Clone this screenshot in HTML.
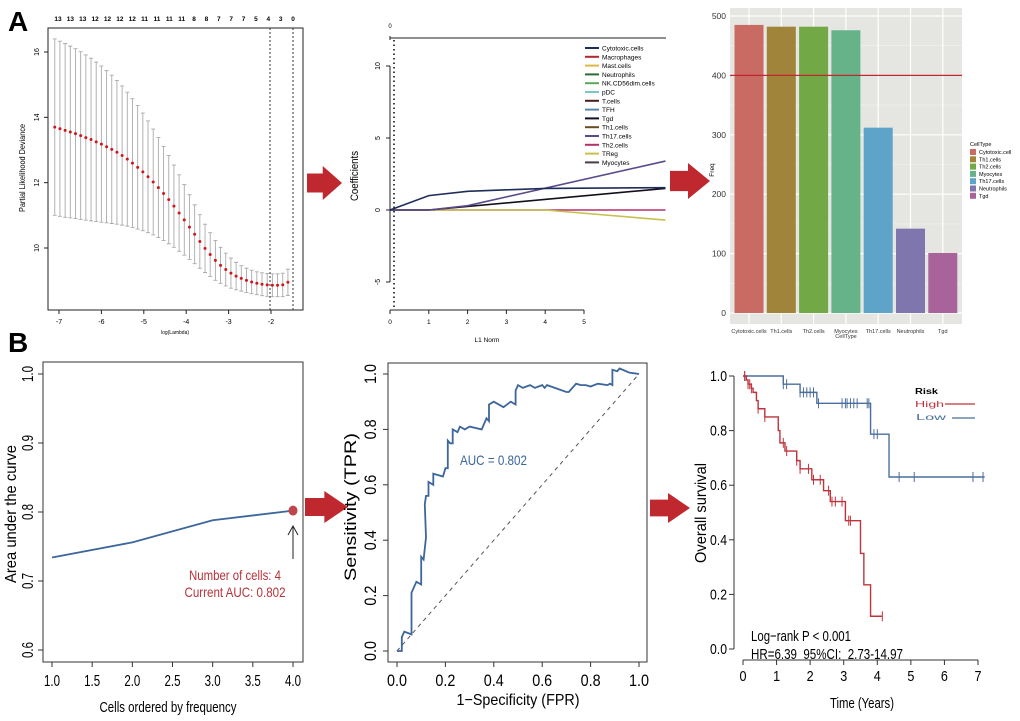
<!DOCTYPE html>
<html><head><meta charset="utf-8">
<style>
html,body{margin:0;padding:0;background:#fff;}
svg{display:block;font-family:"Liberation Sans",sans-serif;}
</style></head>
<body>
<svg id="fig" width="1020" height="721" viewBox="0 0 1020 721" xmlns="http://www.w3.org/2000/svg">
<text x="8" y="31" font-family="Liberation Sans" font-weight="bold" font-size="28">A</text>
<text x="8" y="352" font-family="Liberation Sans" font-weight="bold" font-size="28">B</text>
<g id="arrows" fill="#c0282f"></g>
<g id="p1"></g>
<g id="p2"></g>
<g id="p3"></g>
<g id="p4"></g>
<g id="p5"></g>
<g id="p6"></g>
</svg>
<script>
// ---- Panel A1 data
const lamStart = -7.1, lamStep = 0.1222;
const cvMean = [13.70,13.65,13.60,13.55,13.50,13.44,13.38,13.32,13.25,13.18,13.10,13.02,12.93,12.83,12.72,12.60,12.47,12.33,12.18,12.02,11.85,11.67,11.48,11.28,11.07,10.86,10.64,10.42,10.20,9.99,9.80,9.62,9.47,9.34,9.23,9.14,9.07,9.01,8.96,8.92,8.89,8.87,8.86,8.86,8.87,8.95];
const cvSe = [2.70,2.68,2.66,2.63,2.60,2.57,2.53,2.49,2.44,2.39,2.33,2.27,2.20,2.13,2.05,1.97,1.89,1.80,1.71,1.62,1.53,1.44,1.35,1.26,1.17,1.08,0.99,0.90,0.82,0.74,0.67,0.61,0.55,0.50,0.46,0.42,0.39,0.37,0.36,0.35,0.35,0.35,0.35,0.35,0.36,0.40];
const topCounts = ["13","13","13","12","12","12","12","11","11","11","11","8","8","7","7","7","5","4","3","0"];
const lamXTicks = [-7,-6,-5,-4,-3,-2];
const lamYTicks = [10,12,14,16];
// ---- Panel A2 data
const coefNames = ["Cytotoxic.cells","Macrophages","Mast.cells","Neutrophils","NK.CD56dim.cells","pDC","T.cells","TFH","Tgd","Th1.cells","Th17.cells","Th2.cells","TReg","Myocytes"];
const coefColors = ["#1f2d5a","#b3262e","#e0b84a","#2e6b3a","#5aa85a","#7cc6c8","#4a1f1f","#5a86a8","#150f1c","#6b4a24","#5b4a8a","#b8306a","#c8c050","#4a3b4a"];
const cytoL1 = [0,1,2,3,4,7.1], cytoVal = [0,1.0,1.3,1.4,1.5,1.55];
const th17L1 = [0,1,2,7.1], th17Val = [0,0,0.3,3.4];
const tgdL1 = [0,1,7.1], tgdVal = [0,0,1.5];
const tregL1 = [0,4,7.1], tregVal = [0,0,-0.7];
const th2L1 = [0,7.1], th2Val = [0,0];
// ---- Panel A3 data
const cellTypes = ["Cytotoxic.cells","Th1.cells","Th2.cells","Myocytes","Th17.cells","Neutrophils","Tgd"];
const legendTypes = ["Cytotoxic.cell","Th1.cells","Th2.cells","Myocytes","Th17.cells","Neutrophils","Tgd"];
const freqs = [485,482,482,476,312,142,101];
const barColors = ["#c96a63","#a0843a","#72a845","#66b38a","#5ea3c8","#7e76ac","#a8639a"];
const freqTicks = [0,100,200,300,400,500];
const threshold = 400;
// ---- Panel B1 data
const nCells = [1,2,3,4];
const aucVals = [0.734,0.756,0.788,0.802];
const b1XTicks = ["1.0","1.5","2.0","2.5","3.0","3.5","4.0"];
const b1YTicks = ["0.6","0.7","0.8","0.9","1.0"];
// ---- Panel B2 data
const rocFpr = [0,0.01,0.02,0.02,0.03,0.06,0.06,0.07,0.08,0.1,0.1,0.11,0.12,0.115,0.12,0.13,0.13,0.15,0.15,0.19,0.2,0.21,0.21,0.22,0.23,0.23,0.25,0.26,0.28,0.3,0.35,0.37,0.38,0.38,0.4,0.44,0.47,0.49,0.49,0.5,0.52,0.55,0.57,0.6,0.61,0.62,0.7,0.71,0.74,0.76,0.78,0.8,0.83,0.87,0.88,0.89,0.89,0.91,0.92,0.96,1];
const rocTpr = [0,0,0,0.05,0.07,0.06,0.21,0.23,0.25,0.24,0.34,0.33,0.41,0.53,0.56,0.56,0.61,0.6,0.64,0.63,0.66,0.66,0.76,0.75,0.75,0.8,0.79,0.81,0.8,0.81,0.8,0.84,0.83,0.89,0.9,0.88,0.9,0.89,0.94,0.96,0.95,0.96,0.95,0.96,0.95,0.96,0.935,0.935,0.965,0.96,0.96,0.955,0.965,0.96,0.965,0.96,1.015,1.01,1.02,1.005,1.0];
const rocTicks = ["0.0","0.2","0.4","0.6","0.8","1.0"];
// ---- Panel B3 data
const lowTimes = [0,1.2,1.7,2.2,3.8,4.35,7.2];
const lowSurv = [1.0,0.97,0.94,0.9,0.787,0.63,0.63];
const lowCens = [0.05,1.2,1.3,1.7,1.8,1.9,2.0,2.1,2.25,2.95,3.05,3.1,3.2,3.3,3.4,3.7,3.75,3.9,4.0,4.65,5.1,6.85,7.15];
const highTimes = [0,0.1,0.15,0.25,0.3,0.4,0.45,0.65,1.05,1.1,1.25,1.6,1.7,2.05,2.4,2.6,3.05,3.5,3.6,3.8,4.15];
const highSurv = [1.0,0.985,0.97,0.955,0.94,0.91,0.88,0.85,0.80,0.755,0.725,0.69,0.66,0.62,0.58,0.54,0.47,0.35,0.235,0.12,0.12];
const highCens = [0.05,0.15,0.2,0.25,0.45,0.65,1.2,1.3,1.6,1.7,1.95,2.1,2.3,2.55,2.65,2.75,2.95,3.15,3.2,4.15];
const kmXTicks = [0,1,2,3,4,5,6,7];
const kmYTicks = ["0.0","0.2","0.4","0.6","0.8","1.0"];

const NS="http://www.w3.org/2000/svg";
function mk(parent,tag,attrs,text){const e=document.createElementNS(NS,tag);for(const k in attrs)e.setAttribute(k,attrs[k]);if(text!==undefined)e.textContent=text;parent.appendChild(e);return e;}
function tx(parent,attrs,text,len){const e=mk(parent,'text',attrs,text);if(len){e.setAttribute('textLength',len);e.setAttribute('lengthAdjust','spacingAndGlyphs');}return e;}
function lin(d0,d1,r0,r1){return v=>r0+(v-d0)*(r1-r0)/(d1-d0);}
function stepPath(xs,ys,sx,sy){let d="M"+sx(xs[0])+","+sy(ys[0]);for(let i=1;i<xs.length;i++){d+=" H"+sx(xs[i])+" V"+sy(ys[i]);}return d;}

// arrows
const ar=document.getElementById('arrows');
[[307,166,342,200],[670,163,710,199],[305,491,348,523],[650,493,690,523]].forEach(a=>{
 const [x0,y0,x1,y1]=a, m=(y0+y1)/2, h=(y1-y0), bx=x0+(x1-x0)*0.45;
 const p=mk(ar,'polygon',{points:`${x0},${m-h*0.28} ${bx},${m-h*0.28} ${bx},${y0} ${x1},${m} ${bx},${y1} ${bx},${m+h*0.28} ${x0},${m+h*0.28}`});
 
 
});

// ---- P1
(function(){
 const g=document.getElementById('p1');
 const sx=lin(-7,-2,59,271), sy=lin(16,10,52,248);
 mk(g,'rect',{x:48,y:28,width:255,height:282,fill:'none',stroke:'#222','stroke-width':1});
 for(let i=0;i<cvMean.length;i++){
  const x=sx(lamStart+i*lamStep), yu=sy(cvMean[i]+cvSe[i]), yl=sy(cvMean[i]-cvSe[i]);
  const l=mk(g,'path',{d:`M${x},${yu}V${yl}M${x-2},${yu}h4M${x-2},${yl}h4`,stroke:'#aaa','stroke-width':0.9,fill:'none'});
  
  
 }
 for(let i=0;i<cvMean.length;i++){
  const c=mk(g,'circle',{cx:sx(lamStart+i*lamStep),cy:sy(cvMean[i]),r:1.5,fill:'#d0161c'});
  
  
 }
 mk(g,'line',{x1:270,y1:28,x2:270,y2:310,stroke:'#333','stroke-dasharray':'2,2'});
 mk(g,'line',{x1:293,y1:28,x2:293,y2:310,stroke:'#333','stroke-dasharray':'2,2'});
 lamXTicks.forEach(t=>{mk(g,'line',{x1:sx(t),y1:310,x2:sx(t),y2:314,stroke:'#222'});mk(g,'text',{x:sx(t),y:324,'font-size':7,'text-anchor':'middle'},String(t));});
 lamYTicks.forEach(t=>{mk(g,'line',{x1:44,y1:sy(t),x2:48,y2:sy(t),stroke:'#222'});mk(g,'text',{x:39,y:sy(t),'font-size':7,'text-anchor':'middle',transform:`rotate(-90 39 ${sy(t)})`},String(t));});
 topCounts.forEach((c,i)=>{mk(g,'text',{x:58+i*(235/19),y:21,'font-size':6.5,'font-weight':'bold','text-anchor':'middle'},c);});
 mk(g,'text',{x:175,y:334,'font-size':5,'text-anchor':'middle'},'log(Lambda)');
 tx(g,{x:25,y:168,'font-size':8,'text-anchor':'middle',transform:'rotate(-90 25 168)'},'Partial Likelihood Deviance',88);
})();

// ---- P2
(function(){
 const g=document.getElementById('p2');
 const sx=lin(0,5,390,584), sy=lin(10,-5,66,282);
 mk(g,'line',{x1:390,y1:38,x2:666,y2:38,stroke:'#222'});
 mk(g,'line',{x1:390,y1:36,x2:390,y2:40,stroke:'#222'});
 mk(g,'text',{x:390,y:28,'font-size':6,'text-anchor':'middle'},'0');
 mk(g,'line',{x1:390,y1:66,x2:390,y2:282,stroke:'#222'});
 [10,5,0,-5].forEach(t=>{mk(g,'line',{x1:386,y1:sy(t),x2:390,y2:sy(t),stroke:'#222'});mk(g,'text',{x:380,y:sy(t),'font-size':7,'text-anchor':'middle',transform:`rotate(-90 380 ${sy(t)})`},String(t));});
 mk(g,'line',{x1:390,y1:310,x2:584,y2:310,stroke:'#222'});
 [0,1,2,3,4,5].forEach(t=>{mk(g,'line',{x1:sx(t),y1:310,x2:sx(t),y2:314,stroke:'#222'});mk(g,'text',{x:sx(t),y:324,'font-size':6.5,'text-anchor':'middle'},String(t));});
 mk(g,'line',{x1:394,y1:40,x2:394,y2:310,stroke:'#111','stroke-width':1.6,'stroke-dasharray':'1.5,3'});
 tx(g,{x:358,y:176,'font-size':11,'text-anchor':'middle',transform:'rotate(-90 358 176)'},'Coefficients',50);
 mk(g,'text',{x:487,y:342,'font-size':6.5,'text-anchor':'middle'},'L1 Norm');
 const series=[[th2L1,th2Val,11],[tregL1,tregVal,12],[tgdL1,tgdVal,8],[th17L1,th17Val,10],[cytoL1,cytoVal,0]];
 series.forEach(s=>{
  const d=s[0].map((v,i)=>(i?'L':'M')+sx(v)+','+sy(s[1][i])).join(' ');
  const p=mk(g,'path',{d:d,stroke:coefColors[s[2]],'stroke-width':1.6,fill:'none'});
  
  
 });
 coefNames.forEach((n,i)=>{
  const y=48+i*8.8;
  const le=mk(g,'g',{});
  
  
  mk(le,'line',{x1:585,y1:y,x2:599,y2:y,stroke:coefColors[i],'stroke-width':2});
  mk(le,'text',{x:602,y:y+2.5,'font-size':6.5},n);
 });
})();

// ---- P3
(function(){
 const g=document.getElementById('p3');
 const sy=lin(0,500,313,16), bx=i=>749+i*32.3;
 mk(g,'rect',{x:730,y:8,width:232,height:316,fill:'#e5e5e1'});
 [50,150,250,350,450].forEach(t=>mk(g,'line',{x1:730,y1:sy(t),x2:962,y2:sy(t),stroke:'#f2f2f0','stroke-width':0.6}));
 freqTicks.forEach(t=>{mk(g,'line',{x1:730,y1:sy(t),x2:962,y2:sy(t),stroke:'#fff','stroke-width':1.2});mk(g,'text',{x:726,y:sy(t)+3,'font-size':8.5,'text-anchor':'end',fill:'#333'},String(t));});
 cellTypes.forEach((c,i)=>mk(g,'line',{x1:bx(i),y1:8,x2:bx(i),y2:324,stroke:'#fff','stroke-width':1.2}));
 freqs.forEach((v,i)=>{
  const r=mk(g,'rect',{x:bx(i)-14.5,y:sy(v),width:29,height:sy(0)-sy(v),fill:barColors[i]});
  
  
  mk(g,'text',{x:bx(i),y:333,'font-size':5.5,'text-anchor':'middle',fill:'#333'},cellTypes[i]);
 });
 mk(g,'line',{x1:730,y1:sy(threshold),x2:962,y2:sy(threshold),stroke:'#c0282f','stroke-width':1.3});
 mk(g,'text',{x:846,y:338,'font-size':5.5,'text-anchor':'middle',fill:'#333'},'CellType');
 mk(g,'text',{x:714,y:170,'font-size':6.5,'text-anchor':'middle',transform:'rotate(-90 714 170)'},'Freq');
 mk(g,'text',{x:970,y:146,'font-size':5.5},'CellType');
 legendTypes.forEach((n,i)=>{
  const y=149+i*7.3;
  const le=mk(g,'g',{});
  
  
  mk(le,'rect',{x:970,y:y,width:6,height:6,fill:barColors[i]});
  mk(le,'text',{x:979,y:y+5,'font-size':5.5},n);
 });
})();

// ---- P4
(function(){
 const g=document.getElementById('p4');
 const sx=lin(1,4,52,293), sy=lin(1.0,0.6,374,650);
 mk(g,'rect',{x:43,y:362,width:260,height:300,fill:'none',stroke:'#333'});
 b1XTicks.forEach(t=>{const x=sx(+t);mk(g,'line',{x1:x,y1:662,x2:x,y2:667,stroke:'#333'});tx(g,{x:x,y:686,'font-size':16,'text-anchor':'middle'},t,16);});
 b1YTicks.forEach(t=>{const y=sy(+t);mk(g,'line',{x1:38,y1:y,x2:43,y2:y,stroke:'#333'});tx(g,{x:33,y:y,'font-size':16,'text-anchor':'middle',transform:`rotate(-90 33 ${y})`},t,16);});
 const d=nCells.map((v,i)=>(i?'L':'M')+sx(v)+','+sy(aucVals[i])).join(' ');
 const p=mk(g,'path',{d:d,stroke:'#3c669c','stroke-width':1.8,fill:'none'});
 
 
 const c=mk(g,'ellipse',{cx:sx(4),cy:sy(aucVals[3]),rx:4.5,ry:5,fill:'#c0454a'});
 
 
 mk(g,'path',{d:'M293,559V527M288,535L293,526L298,535',stroke:'#222','stroke-width':1,fill:'none'});
 tx(g,{x:235,y:580,'font-size':14,'text-anchor':'middle',fill:'#b8323a'},'Number of cells: 4',92);
 tx(g,{x:235,y:597,'font-size':14,'text-anchor':'middle',fill:'#b8323a'},'Current AUC: 0.802',101);
 tx(g,{x:16,y:514,'font-size':16,'text-anchor':'middle',transform:'rotate(-90 16 514)'},'Area under the curve',138);
 tx(g,{x:168,y:712,'font-size':15,'text-anchor':'middle'},'Cells ordered by frequency',137);
})();

// ---- P5
(function(){
 const g=document.getElementById('p5');
 const sx=lin(0,1,397,639), sy=lin(0,1,651,374);
 mk(g,'rect',{x:388,y:363,width:259,height:299,fill:'none',stroke:'#333'});
 rocTicks.forEach(t=>{const x=sx(+t),y=sy(+t);
  mk(g,'line',{x1:x,y1:662,x2:x,y2:667,stroke:'#333'});tx(g,{x:x,y:686,'font-size':17,'text-anchor':'middle'},t,20);
  mk(g,'line',{x1:383,y1:y,x2:388,y2:y,stroke:'#333'});tx(g,{x:376,y:y,'font-size':17,'text-anchor':'middle',transform:`rotate(-90 376 ${y})`},t,20);});
 mk(g,'line',{x1:sx(0),y1:sy(0),x2:sx(1),y2:sy(1),stroke:'#555','stroke-dasharray':'4,4'});
 const d=rocFpr.map((v,i)=>(i?'L':'M')+sx(v).toFixed(1)+','+sy(rocTpr[i]).toFixed(1)).join(' ');
 const p=mk(g,'path',{d:d,stroke:'#3c669c','stroke-width':1.8,fill:'none'});
 
 
 tx(g,{x:460,y:465,'font-size':14,fill:'#3c669c'},'AUC = 0.802',67);
 tx(g,{x:356,y:507,'font-size':17,'text-anchor':'middle',transform:'rotate(-90 356 507)'},'Sensitivity (TPR)',148);
 tx(g,{x:518,y:705,'font-size':16,'text-anchor':'middle'},'1\u2212Specificity (FPR)',123);
})();

// ---- P6
(function(){
 const g=document.getElementById('p6');
 const sx=lin(0,7,743,978), sy=lin(0,1,649,376);
 mk(g,'line',{x1:734,y1:376,x2:734,y2:649,stroke:'#333'});
 kmYTicks.forEach(t=>{const y=sy(+t);mk(g,'line',{x1:729,y1:y,x2:734,y2:y,stroke:'#333'});tx(g,{x:727,y:y+5,'font-size':15,'text-anchor':'end'},t,17);});
 mk(g,'line',{x1:743,y1:660,x2:978,y2:660,stroke:'#333'});
 kmXTicks.forEach(t=>{const x=sx(t);mk(g,'line',{x1:x,y1:660,x2:x,y2:665,stroke:'#333'});tx(g,{x:x,y:681,'font-size':15,'text-anchor':'middle'},String(t),7);});
 const low=mk(g,'path',{d:stepPath(lowTimes,lowSurv,sx,sy),stroke:'#4a6f9c','stroke-width':1.4,fill:'none'});
 
 
 const high=mk(g,'path',{d:stepPath(highTimes,highSurv,sx,sy),stroke:'#c0333c','stroke-width':1.4,fill:'none'});
 
 
 function survAt(ts,ss,t){let s=ss[0];for(let i=0;i<ts.length;i++){if(ts[i]<=t)s=ss[i];}return s;}
 lowCens.forEach(t=>{const x=sx(t),y=sy(survAt(lowTimes,lowSurv,t));mk(g,'line',{x1:x,y1:y-5,x2:x,y2:y+5,stroke:'#4a6f9c','stroke-width':1});});
 highCens.forEach(t=>{const x=sx(t),y=sy(survAt(highTimes,highSurv,t));mk(g,'line',{x1:x,y1:y-5,x2:x,y2:y+5,stroke:'#c0333c','stroke-width':1});});
 tx(g,{x:915,y:394,'font-size':8,'font-weight':'bold'},'Risk',23);
 tx(g,{x:915,y:407,'font-size':8,fill:'#c0333c'},'High',29);
 mk(g,'line',{x1:945,y1:404,x2:975,y2:404,stroke:'#c0333c','stroke-width':1.2});
 tx(g,{x:916,y:420,'font-size':8,fill:'#4a6f9c'},'Low',30);
 mk(g,'line',{x1:952,y1:418,x2:975,y2:418,stroke:'#4a6f9c','stroke-width':1.2});
 tx(g,{x:751,y:641,'font-size':15},'Log\u2212rank P < 0.001',100);
 tx(g,{x:751,y:659,'font-size':15},'HR=6.39\u00a0\u00a095%CI:\u00a0\u00a02.73-14.97',152);
 tx(g,{x:706,y:513,'font-size':16,'text-anchor':'middle',transform:'rotate(-90 706 513)'},'Overall survival',100);
 tx(g,{x:862,y:708,'font-size':15,'text-anchor':'middle'},'Time (Years)',64);
})();
</script>
</body></html>
